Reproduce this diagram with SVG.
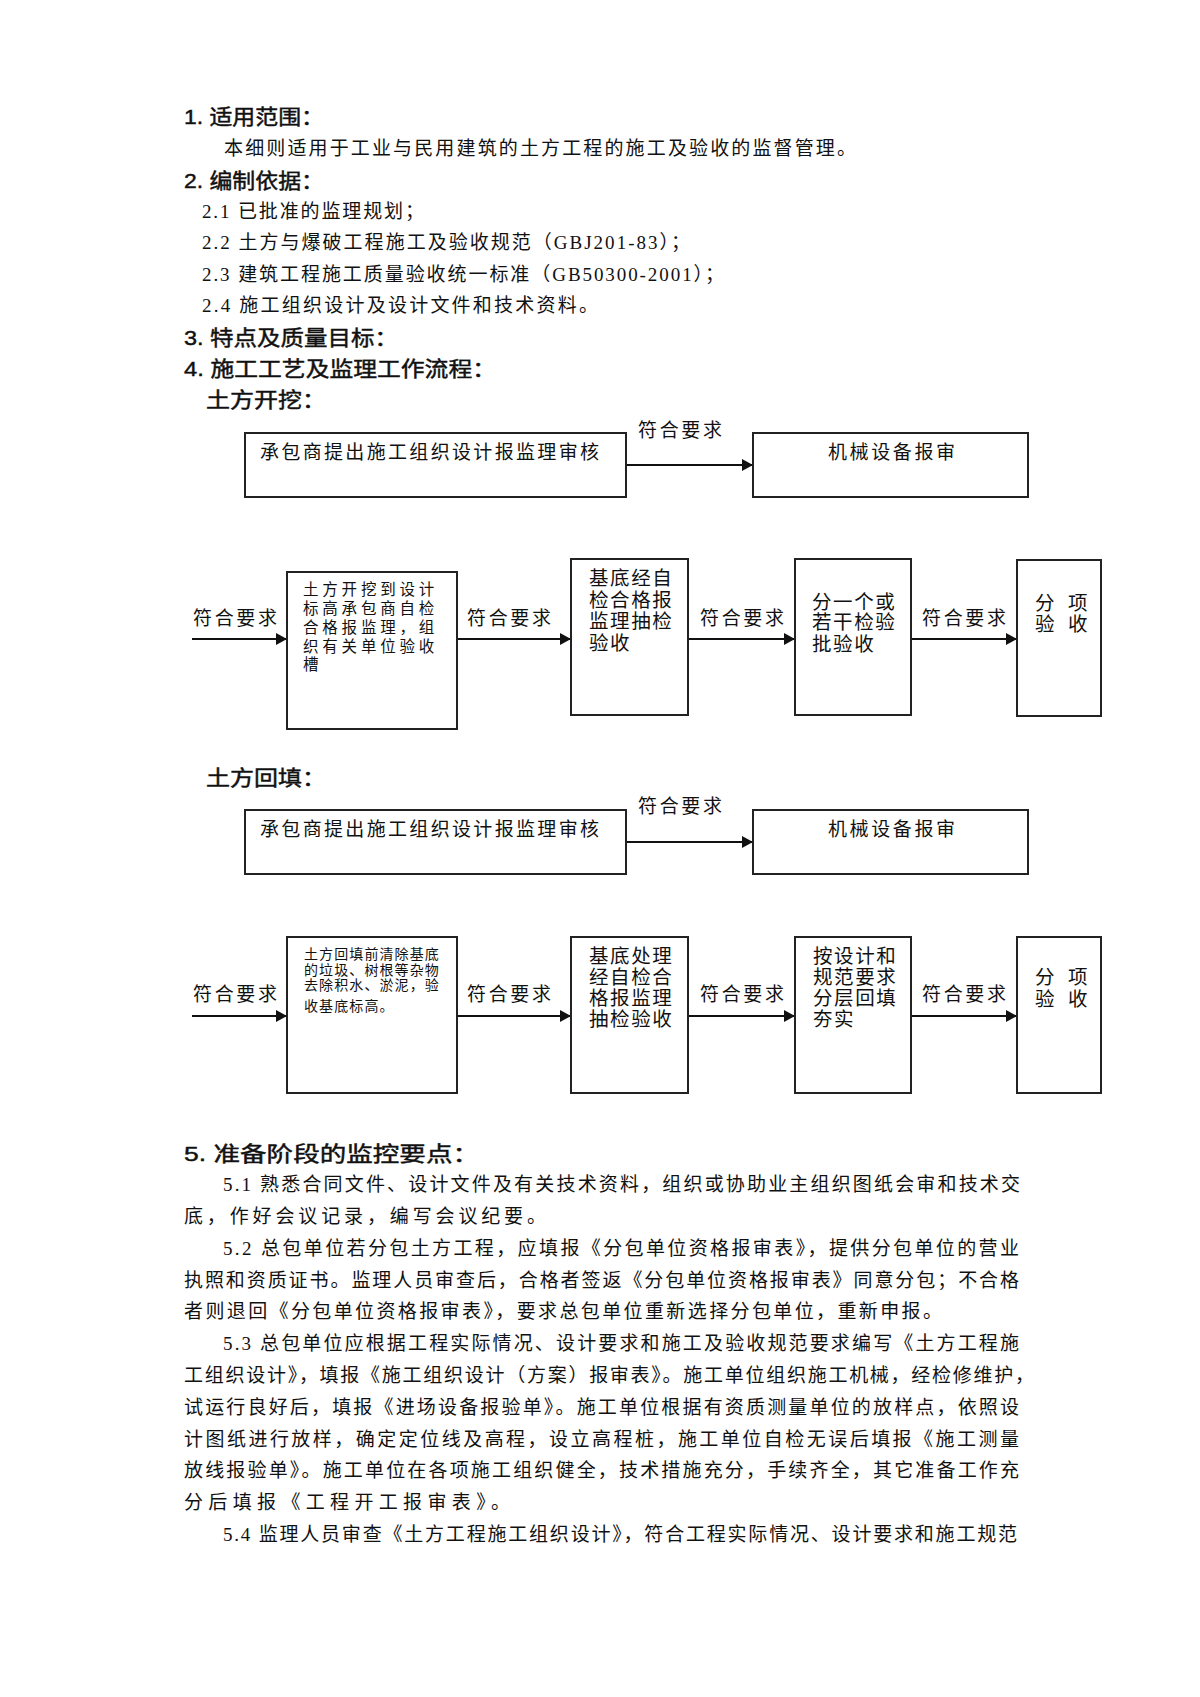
<svg xmlns="http://www.w3.org/2000/svg" width="1200" height="1697" viewBox="0 0 1200 1697">
<style>
text{fill:#111;}
.h{font-family:"Liberation Sans","Noto Sans CJK SC",sans-serif;font-size:21px;stroke:#111;stroke-width:0.45px;}
.b{font-family:"Liberation Serif","Noto Sans CJK SC",serif;font-size:19px;}
.lab{font-family:"Liberation Serif","Noto Sans CJK SC",serif;font-size:19px;}
.t20{font-family:"Liberation Serif","Noto Sans CJK SC",serif;font-size:19.5px;letter-spacing:1.6px;}
.t15{font-family:"Liberation Serif","Noto Sans CJK SC",serif;font-size:15.5px;letter-spacing:3.8px;}
.t14{font-family:"Liberation Serif","Noto Sans CJK SC",serif;font-size:14px;letter-spacing:1.1px;}
.box{fill:#fff;stroke:#222;stroke-width:2;}
.ln{stroke:#111;stroke-width:2;fill:none;marker-end:url(#ah);}
</style>
<defs>
<marker id="ah" markerUnits="userSpaceOnUse" markerWidth="12" markerHeight="12" refX="11" refY="6" orient="auto">
<path d="M0,0 L11,6 L0,12 z" fill="#111"/>
</marker>
</defs>
<rect width="1200" height="1697" fill="#fff"/>

<g id="text-top">
<text class="h" x="184" y="124" textLength="140" lengthAdjust="spacingAndGlyphs">1. 适用范围：</text>
<text class="b" x="224" y="155" textLength="632" lengthAdjust="spacing">本细则适用于工业与民用建筑的土方工程的施工及验收的监督管理。</text>
<text class="h" x="184" y="188" textLength="140" lengthAdjust="spacingAndGlyphs">2. 编制依据：</text>
<text class="b" x="202" y="218" textLength="222" lengthAdjust="spacing">2.1 已批准的监理规划；</text>
<text class="b" x="202" y="249" textLength="488" lengthAdjust="spacing">2.2 土方与爆破工程施工及验收规范（GBJ201-83）；</text>
<text class="b" x="202" y="281" textLength="522" lengthAdjust="spacing">2.3 建筑工程施工质量验收统一标准（GB50300-2001）；</text>
<text class="b" x="202" y="312" textLength="396" lengthAdjust="spacing">2.4 施工组织设计及设计文件和技术资料。</text>
<text class="h" x="184" y="345" textLength="214" lengthAdjust="spacingAndGlyphs">3. 特点及质量目标：</text>
<text class="h" x="184" y="376" textLength="312" lengthAdjust="spacingAndGlyphs">4. 施工工艺及监理工作流程：</text>
<text class="h" x="206" y="407" textLength="120" lengthAdjust="spacingAndGlyphs">土方开挖：</text>
<text class="h" x="206" y="785" textLength="120" lengthAdjust="spacingAndGlyphs">土方回填：</text>
</g>

<g id="connectors">
<line class="ln" x1="626" y1="465" x2="753" y2="465"/>
<line class="ln" x1="192" y1="639" x2="287" y2="639"/>
<line class="ln" x1="457" y1="639" x2="571" y2="639"/>
<line class="ln" x1="688" y1="639" x2="795" y2="639"/>
<line class="ln" x1="911" y1="639" x2="1017" y2="639"/>
<line class="ln" x1="626" y1="842" x2="753" y2="842"/>
<line class="ln" x1="192" y1="1016" x2="287" y2="1016"/>
<line class="ln" x1="457" y1="1016" x2="571" y2="1016"/>
<line class="ln" x1="688" y1="1016" x2="795" y2="1016"/>
<line class="ln" x1="911" y1="1016" x2="1017" y2="1016"/>
<text class="lab" x="638" y="437" textLength="84" lengthAdjust="spacing">符合要求</text>
<text class="lab" x="193" y="625" textLength="84" lengthAdjust="spacing">符合要求</text>
<text class="lab" x="467" y="625" textLength="84" lengthAdjust="spacing">符合要求</text>
<text class="lab" x="700" y="625" textLength="84" lengthAdjust="spacing">符合要求</text>
<text class="lab" x="922" y="625" textLength="84" lengthAdjust="spacing">符合要求</text>
<text class="lab" x="638" y="813" textLength="84" lengthAdjust="spacing">符合要求</text>
<text class="lab" x="193" y="1001" textLength="84" lengthAdjust="spacing">符合要求</text>
<text class="lab" x="467" y="1001" textLength="84" lengthAdjust="spacing">符合要求</text>
<text class="lab" x="700" y="1001" textLength="84" lengthAdjust="spacing">符合要求</text>
<text class="lab" x="922" y="1001" textLength="84" lengthAdjust="spacing">符合要求</text>
</g>

<g id="n1-plan">
<rect class="box" x="245" y="433" width="381" height="64"/>
<text class="b" x="260" y="459" textLength="339" lengthAdjust="spacing">承包商提出施工组织设计报监理审核</text>
</g>
<g id="n1-equip">
<rect class="box" x="753" y="433" width="275" height="64"/>
<text class="b" x="828" y="459" textLength="127" lengthAdjust="spacing">机械设备报审</text>
</g>

<g id="n2-excavate">
<rect class="box" x="287" y="572" width="170" height="157"/>
<text class="t15" x="303" y="594.5">土方开挖到设计</text>
<text class="t15" x="303" y="613.5">标高承包商自检</text>
<text class="t15" x="303" y="632.5">合格报监理，组</text>
<text class="t15" x="303" y="651.5">织有关单位验收</text>
<text class="t15" x="303" y="670">槽</text>
</g>
<g id="n2-base">
<rect class="box" x="571" y="559" width="117" height="156"/>
<text class="t20" x="589" y="585">基底经自</text>
<text class="t20" x="589" y="606.5">检合格报</text>
<text class="t20" x="589" y="628">监理抽检</text>
<text class="t20" x="589" y="650">验收</text>
</g>
<g id="n2-batch">
<rect class="box" x="795" y="559" width="116" height="156"/>
<text class="t20" x="812" y="608.5">分一个或</text>
<text class="t20" x="812" y="629">若干检验</text>
<text class="t20" x="812" y="651">批验收</text>
</g>
<g id="n2-item">
<rect class="box" x="1017" y="560" width="84" height="156"/>
<text class="t20" x="1035" y="610" textLength="54" lengthAdjust="spacing">分 项</text>
<text class="t20" x="1035" y="631" textLength="54" lengthAdjust="spacing">验 收</text>
</g>

<g id="n3-plan">
<rect class="box" x="245" y="810" width="381" height="64"/>
<text class="b" x="260" y="836" textLength="339" lengthAdjust="spacing">承包商提出施工组织设计报监理审核</text>
</g>
<g id="n3-equip">
<rect class="box" x="753" y="810" width="275" height="64"/>
<text class="b" x="828" y="836" textLength="127" lengthAdjust="spacing">机械设备报审</text>
</g>

<g id="n4-clear">
<rect class="box" x="287" y="937" width="170" height="156"/>
<text class="t14" x="304" y="959">土方回填前清除基底</text>
<text class="t14" x="304" y="974.5">的垃圾、树根等杂物</text>
<text class="t14" x="304" y="990">去除积水、淤泥，验</text>
<text class="t14" x="304" y="1011">收基底标高。</text>
</g>
<g id="n4-base">
<rect class="box" x="571" y="937" width="117" height="156"/>
<text class="t20" x="589" y="962.5">基底处理</text>
<text class="t20" x="589" y="984">经自检合</text>
<text class="t20" x="589" y="1004.5">格报监理</text>
<text class="t20" x="589" y="1026">抽检验收</text>
</g>
<g id="n4-layer">
<rect class="box" x="795" y="937" width="116" height="156"/>
<text class="t20" x="813" y="962.5">按设计和</text>
<text class="t20" x="813" y="984">规范要求</text>
<text class="t20" x="813" y="1004.5">分层回填</text>
<text class="t20" x="813" y="1026">夯实</text>
</g>
<g id="n4-item">
<rect class="box" x="1017" y="937" width="84" height="156"/>
<text class="t20" x="1035" y="984" textLength="54" lengthAdjust="spacing">分 项</text>
<text class="t20" x="1035" y="1006" textLength="54" lengthAdjust="spacing">验 收</text>
</g>

<g id="text-bottom">
<text class="h" x="184" y="1161" textLength="295" lengthAdjust="spacingAndGlyphs">5. 准备阶段的监控要点：</text>
<text class="b" x="223" y="1191" textLength="797" lengthAdjust="spacing">5.1 熟悉合同文件、设计文件及有关技术资料，组织或协助业主组织图纸会审和技术交</text>
<text class="b" x="184" y="1223" textLength="362" lengthAdjust="spacing">底，作好会议记录，编写会议纪要。</text>
<text class="b" x="223" y="1254.5" textLength="796" lengthAdjust="spacing">5.2 总包单位若分包土方工程，应填报《分包单位资格报审表》，提供分包单位的营业</text>
<text class="b" x="184" y="1286.5" textLength="835" lengthAdjust="spacing">执照和资质证书。监理人员审查后，合格者签返《分包单位资格报审表》同意分包；不合格</text>
<text class="b" x="184" y="1318" textLength="758" lengthAdjust="spacing">者则退回《分包单位资格报审表》，要求总包单位重新选择分包单位，重新申报。</text>
<text class="b" x="223" y="1350" textLength="796" lengthAdjust="spacing">5.3 总包单位应根据工程实际情况、设计要求和施工及验收规范要求编写《土方工程施</text>
<text class="b" x="184" y="1382" textLength="850" lengthAdjust="spacing">工组织设计》，填报《施工组织设计（方案）报审表》。施工单位组织施工机械，经检修维护，</text>
<text class="b" x="184" y="1413.5" textLength="835" lengthAdjust="spacing">试运行良好后，填报《进场设备报验单》。施工单位根据有资质测量单位的放样点，依照设</text>
<text class="b" x="184" y="1445.5" textLength="835" lengthAdjust="spacing">计图纸进行放样，确定定位线及高程，设立高程桩，施工单位自检无误后填报《施工测量</text>
<text class="b" x="184" y="1477" textLength="835" lengthAdjust="spacing">放线报验单》。施工单位在各项施工组织健全，技术措施充分，手续齐全，其它准备工作充</text>
<text class="b" x="184" y="1509" textLength="326" lengthAdjust="spacing">分后填报《工程开工报审表》。</text>
<text class="b" x="223" y="1541" textLength="794" lengthAdjust="spacing">5.4 监理人员审查《土方工程施工组织设计》，符合工程实际情况、设计要求和施工规范</text>
</g>
</svg>
